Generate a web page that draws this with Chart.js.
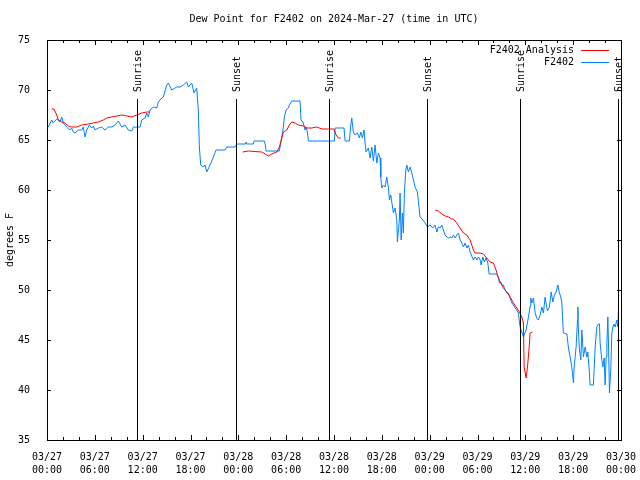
<!DOCTYPE html>
<html>
<head>
<meta charset="utf-8">
<script src="https://cdn.jsdelivr.net/npm/chart.js@4"></script>
<style>
  html, body { margin: 0; padding: 0; background: #fff; }
</style>
</head>
<body>
<canvas id="chart" width="640" height="480"></canvas>
<script>
// hours since 2024-03-27 00:00 UTC
const obsHours = [0.16, 0.59, 0.79, 1.22, 1.63, 1.84, 2.05, 2.47, 2.89, 3.10, 3.30, 3.51, 3.93, 4.35, 4.55, 4.77, 4.98, 5.31, 5.61, 5.81,
  6.02, 6.44, 6.86, 7.28, 7.69, 8.12, 8.53, 8.95, 9.37, 9.79, 10.20, 10.63, 10.83, 11.25, 11.67, 11.88, 12.30, 12.51, 12.71, 12.92,
  13.34, 13.76, 13.96, 14.39, 14.59, 15.02, 15.22, 15.65, 16.06, 16.27, 16.69, 17.10, 17.53, 17.73, 18.16, 18.44, 18.78, 18.98, 19.11, 19.28,
  19.61, 19.82, 20.04, 20.45, 20.87, 21.20, 22.33, 22.55, 23.59, 23.80, 24.84, 24.93, 25.06, 25.88, 25.97, 27.26, 27.39, 27.48, 29.15, 29.23,
  29.45, 29.65, 29.77, 29.99, 30.28, 30.40, 30.70, 31.74, 31.87, 32.16, 32.37, 32.50, 32.66, 32.79, 36.05, 36.14, 37.26, 37.39, 37.93, 38.11,
  38.23, 38.43, 38.64, 38.93, 39.18, 39.36, 39.56, 39.77, 39.90, 40.02, 40.31, 40.53, 40.74, 40.94, 41.15, 41.37, 41.57, 41.78, 41.87, 41.99,
  42.20, 42.41, 42.62, 42.82, 42.95, 43.12, 43.25, 43.45, 43.66, 43.88, 43.95, 44.20, 44.29, 44.42, 44.58, 44.70, 44.83, 45.01, 45.13, 45.33,
  45.55, 45.76, 45.88, 46.17, 46.46, 46.59, 46.80, 47.14, 47.43, 47.72, 48.06, 48.39, 48.68, 48.90, 49.10, 49.31, 49.52, 49.72, 49.94, 50.15,
  50.35, 50.56, 50.78, 50.98, 51.19, 51.40, 51.61, 51.82, 52.03, 52.23, 52.45, 52.66, 52.86, 53.07, 53.49, 53.70, 53.91, 54.12, 54.33, 54.45,
  54.67, 54.87, 55.08, 55.29, 55.46, 56.42, 56.63, 56.75, 56.93, 57.05, 57.25, 57.47, 57.68, 57.88, 58.09, 58.31, 58.51, 58.72, 58.93, 59.13,
  59.26, 59.35, 59.56, 59.76, 59.89, 60.10, 60.39, 60.60, 60.69, 60.81, 61.02, 61.23, 61.44, 61.64, 61.86, 62.07, 62.27, 62.48, 62.61, 62.77,
  63.02, 63.24, 63.45, 63.65, 63.86, 64.08, 64.28, 64.45, 64.58, 64.70, 64.78, 65.21, 65.41, 65.62, 65.83, 66.04, 66.12, 66.37, 66.54, 66.59,
  66.66, 66.79, 66.96, 67.09, 67.29, 67.50, 67.72, 67.84, 68.04, 68.13, 68.54, 68.76, 68.97, 69.17, 69.30, 69.38, 69.60, 69.72, 69.89, 70.01,
  70.14, 70.23, 70.35, 70.43, 70.55, 70.73, 70.85, 70.98, 71.14, 71.27, 71.48, 71.61, 71.68];
const obsDew = [66.3, 67.0, 66.7, 67.1, 66.8, 67.3, 66.7, 66.3, 66.0, 66.2, 65.8, 65.7, 66.0, 66.0, 66.3, 65.3, 66.0, 66.5, 66.2, 66.4,
  66.0, 66.2, 66.3, 66.0, 66.3, 66.3, 66.5, 66.9, 66.3, 66.5, 66.0, 65.9, 66.3, 66.3, 66.3, 67.0, 67.2, 67.7, 67.3, 68.0,
  68.3, 68.2, 68.8, 69.2, 69.3, 70.5, 70.7, 70.0, 70.2, 70.3, 70.3, 70.5, 70.8, 70.3, 70.7, 69.7, 70.2, 68.0, 64.3, 62.5,
  62.3, 62.5, 61.8, 62.5, 63.3, 64.0, 64.0, 64.3, 64.3, 64.6, 64.6, 64.8, 64.6, 64.6, 64.9, 64.9, 64.5, 63.9, 63.9, 64.3,
  65.3, 66.3, 67.3, 68.0, 68.2, 68.5, 68.9, 68.9, 67.0, 66.7, 66.0, 66.3, 65.8, 64.9, 64.9, 66.2, 66.2, 64.9, 64.9, 66.5,
  67.2, 65.8, 65.5, 65.7, 65.2, 65.8, 65.2, 66.0, 64.7, 63.8, 64.2, 63.2, 64.3, 62.9, 64.5, 62.7, 63.7, 63.2, 61.3, 60.2,
  60.5, 60.3, 61.3, 60.3, 59.0, 59.5, 58.8, 57.7, 58.2, 57.0, 54.8, 57.0, 59.7, 55.0, 57.7, 55.7, 59.8, 62.0, 62.5, 61.8,
  62.3, 61.7, 61.3, 60.3, 59.8, 58.8, 57.3, 57.0, 56.7, 56.3, 56.5, 56.2, 56.5, 55.8, 56.3, 56.2, 56.5, 56.0, 55.5, 55.3,
  55.2, 55.3, 55.2, 55.5, 55.2, 55.5, 55.7, 55.0, 54.7, 54.3, 54.7, 54.2, 54.5, 53.8, 53.0, 53.3, 53.0, 53.3, 53.0, 52.5,
  53.3, 52.8, 53.2, 52.7, 51.6, 51.6, 51.2, 50.7, 50.8, 50.5, 50.5, 50.0, 49.7, 49.7, 49.2, 48.7, 48.5, 48.2, 48.0, 47.7,
  46.8, 46.3, 45.8, 45.3, 45.6, 46.0, 47.3, 48.4, 49.2, 48.7, 49.2, 47.7, 47.2, 47.0, 47.5, 48.3, 47.7, 49.3, 48.6, 47.9,
  48.3, 49.8, 48.8, 49.5, 49.8, 50.5, 49.7, 49.3, 48.7, 46.7, 45.7, 45.6, 44.2, 43.3, 42.3, 40.7, 42.3, 44.3, 47.0, 48.3,
  46.0, 44.0, 43.0, 46.0, 43.3, 44.3, 43.3, 43.8, 41.7, 40.5, 40.5, 44.3, 46.3, 46.6, 46.6, 44.7, 43.0, 42.3, 43.2, 40.5,
  43.3, 44.7, 47.3, 44.7, 39.7, 42.3, 45.7, 46.3, 46.6, 46.3, 47.0, 46.3, 48.0];

// analysis, null = no analysis
const anaHours = [0.59, 0.88, 1.22, 1.42, 1.84, 2.26, 2.67, 3.10, 3.73, 4.35, 5.18, 5.81, 6.44, 7.06, 7.49, 8.12, 8.75, 9.37, 10.00, 10.63,
  11.25, 11.88, 12.51, 12.92, 18.0,
  24.55, 25.26, 26.94, 27.35, 27.77, 28.19, 28.82, 29.15, 29.32, 29.65, 30.07, 30.40, 30.70, 31.12, 31.53, 32.16, 32.58, 33.21, 33.84, 34.47,
  35.29, 36.01, 36.26, 36.55, 36.85, 42.0,
  48.68, 49.10, 49.52, 49.94, 50.35, 50.78, 50.98, 51.40, 51.82, 52.23, 52.66, 53.07, 53.49, 53.70, 54.33, 54.74, 55.16, 55.58, 55.99, 56.33,
  56.50, 56.84, 57.25, 57.68, 58.09, 58.51, 58.93, 59.26, 59.56, 59.76, 59.85, 60.10, 60.27, 60.48, 60.60, 60.89];
const anaDew = [68.1, 68.1, 67.5, 67.0, 66.8, 66.7, 66.4, 66.3, 66.3, 66.5, 66.6, 66.7, 66.8, 67.0, 67.2, 67.3, 67.4, 67.5, 67.4, 67.3,
  67.5, 67.7, 67.8, 67.8, null,
  63.8, 63.9, 63.8, 63.6, 63.4, 63.6, 63.8, 64.3, 64.8, 65.8, 66.0, 66.5, 66.8, 66.7, 66.5, 66.4, 66.2, 66.2, 66.3, 66.1,
  66.1, 66.1, 65.5, 65.2, 65.2, null,
  58.0, 57.9, 57.6, 57.4, 57.3, 57.1, 57.1, 56.7, 56.2, 55.7, 55.5, 55.0, 54.0, 53.7, 53.7, 53.6, 53.2, 52.8, 52.7, 52.0,
  51.5, 50.8, 50.2, 49.8, 49.3, 48.7, 48.2, 47.8, 47.3, 46.7, 42.3, 41.2, 42.3, 44.3, 45.7, 45.8];

const sunHours = [11.33, 23.68, 35.42, 47.72, 59.39, 71.68];
const sunLabels = ['Sunrise', 'Sunset', 'Sunrise', 'Sunset', 'Sunrise', 'Sunset'];

const xTickLabels = [
  ['03/27', '00:00'], ['03/27', '06:00'], ['03/27', '12:00'], ['03/27', '18:00'],
  ['03/28', '00:00'], ['03/28', '06:00'], ['03/28', '12:00'], ['03/28', '18:00'],
  ['03/29', '00:00'], ['03/29', '06:00'], ['03/29', '12:00'], ['03/29', '18:00'],
  ['03/30', '00:00']
];
const seriesNames = ['F2402 Analysis', 'F2402'];
const seriesColors = ['#ff0000', '#0080ff'];

const FONT = '10px "DejaVu Sans Mono", monospace';

// gnuplot style frame, inward ticks, sun markers, legend and title
const gnuplotLook = {
  id: 'gnuplotLook',
  afterDatasetsDraw(chart) {
    const { ctx, chartArea: a, scales: { x, y } } = chart;
    ctx.save();
    ctx.strokeStyle = '#000';
    ctx.fillStyle = '#000';
    ctx.lineWidth = 1;

    ctx.beginPath();
    y.ticks.forEach(t => {
      const py = Math.round(y.getPixelForValue(t.value)) + 0.5;
      ctx.moveTo(a.left, py); ctx.lineTo(a.left + 4, py);
      ctx.moveTo(a.right, py); ctx.lineTo(a.right - 4, py);
    });
    x.ticks.forEach(t => {
      const px = Math.round(x.getPixelForValue(t.value)) + 0.5;
      const len = t.value % 6 === 0 ? 5 : 3;
      ctx.moveTo(px, a.bottom); ctx.lineTo(px, a.bottom - len);
      ctx.moveTo(px, a.top); ctx.lineTo(px, a.top + len);
    });
    ctx.stroke();
    ctx.strokeRect(Math.round(a.left) + 0.5, Math.round(a.top) + 0.5, Math.round(a.width), Math.round(a.height));

    // sunrise / sunset
    ctx.font = FONT;
    sunHours.forEach((h, i) => {
      const px = Math.round(x.getPixelForValue(h)) + 0.5;
      ctx.beginPath();
      ctx.moveTo(px, a.bottom);
      ctx.lineTo(px, a.top + 59);
      ctx.stroke();
      ctx.save();
      ctx.translate(px + 1, a.top + 52);
      ctx.rotate(-Math.PI / 2);
      ctx.textAlign = 'left';
      ctx.textBaseline = 'middle';
      ctx.fillText(sunLabels[i], 0, 0);
      ctx.restore();
    });

    // legend
    ctx.textAlign = 'right';
    ctx.textBaseline = 'middle';
    seriesNames.forEach((name, i) => {
      const ly = a.top + 10 + i * 12;
      ctx.fillStyle = '#000';
      ctx.fillText(name, a.right - 47, ly);
      ctx.strokeStyle = seriesColors[i];
      ctx.beginPath();
      ctx.moveTo(a.right - 40, Math.round(ly) + 0.5);
      ctx.lineTo(a.right - 12, Math.round(ly) + 0.5);
      ctx.stroke();
    });

    // title
    ctx.fillStyle = '#000';
    ctx.textAlign = 'center';
    ctx.fillText('Dew Point for F2402 on 2024-Mar-27 (time in UTC)', (a.left + a.right) / 2, 19);
    ctx.restore();
  }
};

new Chart(document.getElementById('chart'), {
  type: 'line',
  data: {
    datasets: [
      {
        label: seriesNames[0],
        data: anaHours.map((h, i) => ({ x: h, y: anaDew[i] })),
        borderColor: seriesColors[0],
        borderWidth: 1,
        pointRadius: 0,
        tension: 0,
        spanGaps: false,
      },
      {
        label: seriesNames[1],
        data: obsHours.map((h, i) => ({ x: h, y: obsDew[i] })),
        borderColor: seriesColors[1],
        borderWidth: 1,
        pointRadius: 0,
        tension: 0,
      },
    ],
  },
  options: {
    responsive: false,
    animation: false,
    events: [],
    layout: { padding: { top: 40, right: 19, left: 0, bottom: 0 } },
    plugins: {
      legend: { display: false },
      tooltip: { enabled: false },
      title: { display: false },
    },
    scales: {
      x: {
        type: 'linear',
        min: 0,
        max: 72,
        grid: { display: false },
        border: { display: false },
        ticks: {
          stepSize: 2,
          autoSkip: false,
          maxRotation: 0,
          minRotation: 0,
          padding: 3,
          color: '#000',
          font: { family: '"DejaVu Sans Mono", monospace', size: 10, lineHeight: 1.3 },
          callback: (v) => (v % 6 === 0 ? xTickLabels[v / 6] : ''),
        },
        afterFit: (scale) => {
          scale.height = 40;
          scale.paddingLeft = 0;
          scale.paddingRight = 0;
        },
      },
      y: {
        min: 35,
        max: 75,
        grid: { display: false },
        border: { display: false },
        ticks: {
          stepSize: 5,
          padding: 9,
          color: '#000',
          font: { family: '"DejaVu Sans Mono", monospace', size: 10 },
        },
        title: {
          display: true,
          text: 'degrees F',
          color: '#000',
          padding: { top: 4, bottom: 0 },
          font: { family: '"DejaVu Sans Mono", monospace', size: 10 },
        },
        afterFit: (scale) => { scale.width = 47; },
      },
    },
  },
  plugins: [gnuplotLook],
});
</script>
</body>
</html>
